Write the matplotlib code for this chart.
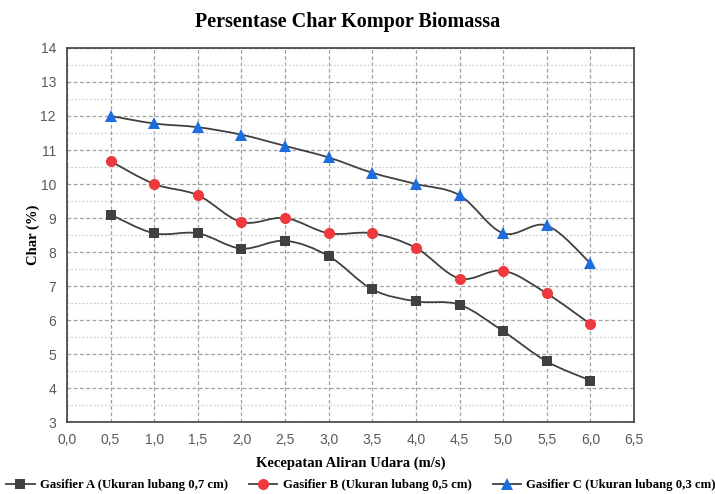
import matplotlib
matplotlib.use("Agg")
import matplotlib.pyplot as plt
from matplotlib.path import Path
from matplotlib.patches import PathPatch
from matplotlib.lines import Line2D

# Data
kecepatan = [0.5, 1.0, 1.5, 2.0, 2.5, 3.0, 3.5, 4.0, 4.5, 5.0, 5.5, 6.0]
gasifier_a = [9.1, 8.55, 8.55, 8.1, 8.33, 7.88, 6.9, 6.55, 6.45, 5.67, 4.78, 4.22]
gasifier_b = [10.67, 10.0, 9.67, 8.88, 9.0, 8.55, 8.55, 8.12, 7.22, 7.45, 6.78, 5.88]
gasifier_c = [12.0, 11.78, 11.67, 11.45, 11.12, 10.78, 10.33, 10.0, 9.67, 8.55, 8.78, 7.67]
labels = ["Gasifier A (Ukuran lubang 0,7 cm)",
          "Gasifier B (Ukuran lubang 0,5 cm)",
          "Gasifier C (Ukuran lubang 0,3 cm)"]

serif = "Liberation Serif"
sans = "Liberation Sans"
line_col = "#404040"


# Excel-style smoothed line: Catmull-Rom converted to cubic Bezier segments
def smooth_path(xs, ys):
    pts = list(zip(xs, ys))
    verts = [pts[0]]
    codes = [Path.MOVETO]
    n = len(pts)
    for i in range(n - 1):
        p0 = pts[i - 1] if i > 0 else pts[i]
        p1 = pts[i]
        p2 = pts[i + 1]
        p3 = pts[i + 2] if i + 2 < n else pts[i + 1]
        c1 = (p1[0] + (p2[0] - p0[0]) / 6, p1[1] + (p2[1] - p0[1]) / 6)
        c2 = (p2[0] - (p3[0] - p1[0]) / 6, p2[1] - (p3[1] - p1[1]) / 6)
        verts += [c1, c2, p2]
        codes += [Path.CURVE4] * 3
    return Path(verts, codes)


fig = plt.figure(figsize=(7.15, 4.94), dpi=100)
ax = fig.add_axes([67 / 715, (494 - 422) / 494, (634 - 67) / 715, (422 - 48) / 494])

series = [
    (gasifier_a, "s", "#404040", 7),
    (gasifier_b, "o", "#EE3A3F", 8),
    (gasifier_c, "^", "#1C6EE0", 9),
]
for ys, mk, col, ms in series:
    ax.add_patch(PathPatch(smooth_path(kecepatan, ys), fill=False,
                           edgecolor=line_col, lw=1.3, zorder=3))
    ax.plot(kecepatan, ys, linestyle="none", marker=mk, color=col,
            markersize=ms, markeredgewidth=0, zorder=4)

ax.set_xlim(0, 6.5)
ax.set_ylim(3, 14)
xt = [i * 0.5 for i in range(14)]
ax.set_xticks(xt)
ax.set_xticklabels([f"{v:.1f}".replace(".", ",") for v in xt])
ax.set_yticks(range(3, 15))
ax.set_yticks([i + 0.5 for i in range(3, 14)], minor=True)
ax.tick_params(axis="both", which="both", length=0, labelsize=10,
               labelcolor="#595959", pad=8)
for lab in ax.get_xticklabels() + ax.get_yticklabels():
    lab.set_fontfamily(sans)

ax.grid(True, axis="x", which="major", color="#a0a0a0", linestyle=(0, (3, 2)), lw=0.9)
ax.grid(True, axis="y", which="major", color="#a0a0a0", linestyle=(0, (3, 2)), lw=0.9)
ax.grid(True, axis="y", which="minor", color="#cfcfcf", linestyle=(0, (1.5, 1.5)), lw=0.9)
ax.set_axisbelow(True)
for sp in ax.spines.values():
    sp.set_color("#404040")
    sp.set_linewidth(1.2)

fig.text(0.486, 0.955, "Persentase Char Kompor Biomassa", ha="center", va="center",
         fontsize=14.5, fontweight="bold", family=serif)
ax.set_xlabel("Kecepatan Aliran Udara (m/s)", fontsize=10.5, fontweight="bold",
              family=serif, labelpad=7)
ax.set_ylabel("Char (%)", fontsize=10.5, fontweight="bold", family=serif, labelpad=0)

handles = [Line2D([], [], color=line_col, lw=1.3, marker=mk, markerfacecolor=col,
                  markeredgewidth=0, markersize=ms)
           for _, mk, col, ms in series]
fig.legend(handles, labels, loc="lower center", bbox_to_anchor=(0.505, -0.018), ncol=3,
           frameon=False, prop={"family": serif, "weight": "bold", "size": 9.2},
           handlelength=2.2, handletextpad=0.4, columnspacing=1.7)

fig.savefig("out.png", dpi=100)
